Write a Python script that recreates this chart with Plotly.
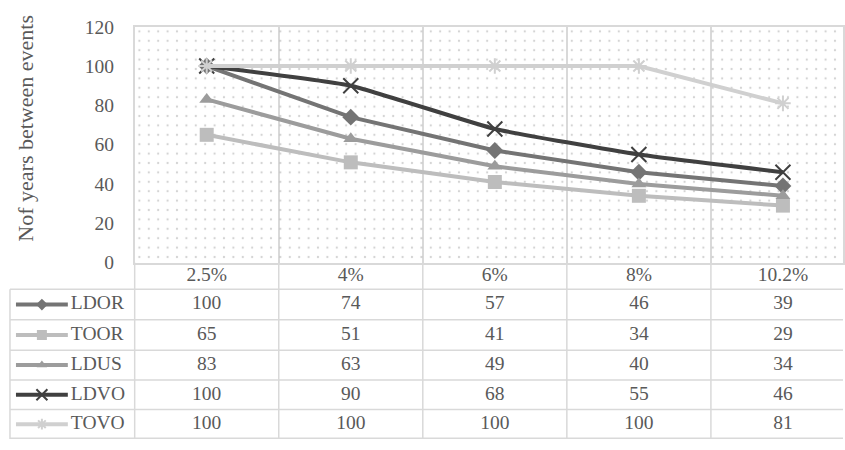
import plotly.graph_objects as go

# ---------------- data ----------------
categories = ["2.5%", "4%", "6%", "8%", "10.2%"]
series_names = ["LDOR", "TOOR", "LDUS", "LDVO", "TOVO"]
ldor = [100, 74, 57, 46, 39]
toor = [65, 51, 41, 34, 29]
ldus = [83, 63, 49, 40, 34]
ldvo = [100, 90, 68, 55, 46]
tovo = [100, 100, 100, 100, 81]
y_ticks = [0, 20, 40, 60, 80, 100, 120]
y_title = "Nof years between events"

series_values = [ldor, toor, ldus, ldvo, tovo]

# ---------------- layout constants (pixels) ----------------
W, H = 845, 450
PL, PR, PT, PB = 135, 857, 17.5, 265      # plot area (right edge lies beyond the window)
TL = 10                                   # table left edge
ROW_LINES = [293, 325, 357, 388, 419, H]  # row bottoms below the header
COLW = (PR - PL) / 5
FONT = "Liberation Serif"
TXT = "#595959"
GRID = "#d9d9d9"
FS = 19.5

styles = {
    "LDOR": dict(color="#747474", symbol="diamond", size=13, shape="linear", lw=0),
    "TOOR": dict(color="#bdbdbd", symbol="square", size=14, shape="linear", lw=0),
    "LDUS": dict(color="#9c9c9c", symbol="triangle-up", size=13, shape="linear", lw=0),
    "LDVO": dict(color="#404040", symbol="x-thin-open", size=15, shape="spline", lw=2),
    "TOVO": dict(color="#d0d0d0", symbol="asterisk-open", size=13, shape="linear", lw=2),
}


def pxp(x):
    return x / W


def pyp(y):
    return 1 - y / H


def x2u(x):
    """pixel x -> table axis units (category index)"""
    return (x - (PL + COLW / 2)) / COLW


fig = go.Figure()

# dotted plot-area background
fig.add_trace(go.Bar(
    x=categories, y=[y_ticks[-1]] * len(categories), width=1,
    marker=dict(color="rgba(0,0,0,0)", line_width=0,
                pattern=dict(shape=".", fgcolor="#a8a8a8", size=9.4, solidity=0.045)),
    hoverinfo="skip", showlegend=False,
))

# series lines
for name, vals in zip(series_names, series_values):
    st = styles[name]
    fig.add_trace(go.Scatter(
        x=categories, y=vals, name=name, mode="lines+markers",
        line=dict(color=st["color"], width=4, shape=st["shape"], smoothing=0.4),
        marker=dict(symbol=st["symbol"], size=st["size"], color=st["color"],
                    line=dict(color=st["color"], width=st["lw"])),
        showlegend=False, cliponaxis=False,
    ))

# data table header (category labels)
header_y = (PB + ROW_LINES[0]) / 2
fig.add_trace(go.Scatter(
    x=list(range(len(categories))), y=[header_y] * len(categories),
    xaxis="x2", yaxis="y2", mode="text", text=categories,
    textposition="middle center", textfont=dict(family=FONT, size=FS, color=TXT),
    hoverinfo="skip", showlegend=False, cliponaxis=False,
))

# data table rows: legend keys, names and values
for i, (name, vals) in enumerate(zip(series_names, series_values)):
    st = styles[name]
    yc = (ROW_LINES[i] + ROW_LINES[i + 1]) / 2
    fig.add_trace(go.Scatter(
        x=[x2u(16), x2u(68)], y=[yc, yc], xaxis="x2", yaxis="y2", mode="lines",
        line=dict(color=st["color"], width=4), hoverinfo="skip", showlegend=False,
    ))
    fig.add_trace(go.Scatter(
        x=[x2u(42)], y=[yc], xaxis="x2", yaxis="y2", mode="markers",
        marker=dict(symbol=st["symbol"], size=st["size"] - 4, color=st["color"],
                    line=dict(color=st["color"], width=st["lw"])),
        hoverinfo="skip", showlegend=False,
    ))
    fig.add_trace(go.Scatter(
        x=[x2u(71)], y=[yc], xaxis="x2", yaxis="y2", mode="text", text=[name],
        textposition="middle right", textfont=dict(family=FONT, size=FS, color=TXT),
        hoverinfo="skip", showlegend=False, cliponaxis=False,
    ))
    fig.add_trace(go.Scatter(
        x=list(range(len(categories))), y=[yc] * len(categories), xaxis="x2", yaxis="y2",
        mode="text", text=[str(v) for v in vals],
        textposition="middle center", textfont=dict(family=FONT, size=FS, color=TXT),
        hoverinfo="skip", showlegend=False, cliponaxis=False,
    ))

shapes = []
line_style = dict(color=GRID, width=1.5)
for yl in ROW_LINES[:-1] + [H - 0.75]:
    shapes.append(dict(type="line", xref="paper", yref="paper",
                       x0=pxp(TL), x1=1, y0=pyp(yl), y1=pyp(yl), line=line_style))
shapes.append(dict(type="line", xref="paper", yref="paper",
                   x0=pxp(TL), x1=pxp(TL), y0=pyp(ROW_LINES[0]), y1=0, line=line_style))
shapes.append(dict(type="line", xref="paper", yref="paper",
                   x0=pxp(PL), x1=pxp(PL), y0=pyp(PB), y1=0, line=line_style))
for k in range(len(categories) - 1):
    shapes.append(dict(type="line", xref="x", yref="paper",
                       x0=k + 0.5, x1=k + 0.5, y0=pyp(PB), y1=0, line=line_style))

fig.update_layout(
    width=W, height=H,
    margin=dict(l=0, r=0, t=0, b=0),
    paper_bgcolor="white", plot_bgcolor="white",
    bargap=0, showlegend=False,
    font=dict(family=FONT, size=FS, color=TXT),
    xaxis=dict(
        type="category", categoryorder="array", categoryarray=categories,
        domain=[pxp(PL), 1], range=[-0.5, -0.5 + (W - PL) / COLW],
        tickson="boundaries", showgrid=True, gridcolor=GRID, gridwidth=1.5,
        showline=True, mirror=True, linecolor=GRID, linewidth=1.5,
        ticks="", showticklabels=False, fixedrange=True,
    ),
    yaxis=dict(
        domain=[pyp(PB), pyp(PT)], range=[y_ticks[0], y_ticks[-1]],
        tickvals=y_ticks, showgrid=False, zeroline=False,
        showline=True, mirror=True, linecolor=GRID, linewidth=1.5,
        ticks="", ticklabelstandoff=15,
        tickfont=dict(family=FONT, size=FS, color=TXT), fixedrange=True,
    ),
    xaxis2=dict(domain=[pxp(TL), 1], anchor="y2",
                range=[x2u(TL), x2u(W)], visible=False, fixedrange=True),
    yaxis2=dict(domain=[0, pyp(PB)], anchor="x2",
                range=[H, PB], visible=False, fixedrange=True),
    shapes=shapes,
    annotations=[dict(
        text=y_title, xref="paper", yref="paper", x=pxp(26), y=pyp(123.5),
        xanchor="center", yanchor="middle", textangle=-90, showarrow=False,
        font=dict(family=FONT, size=22, color=TXT),
    )],
)

fig.write_html("out.html", config={"displayModeBar": False})
